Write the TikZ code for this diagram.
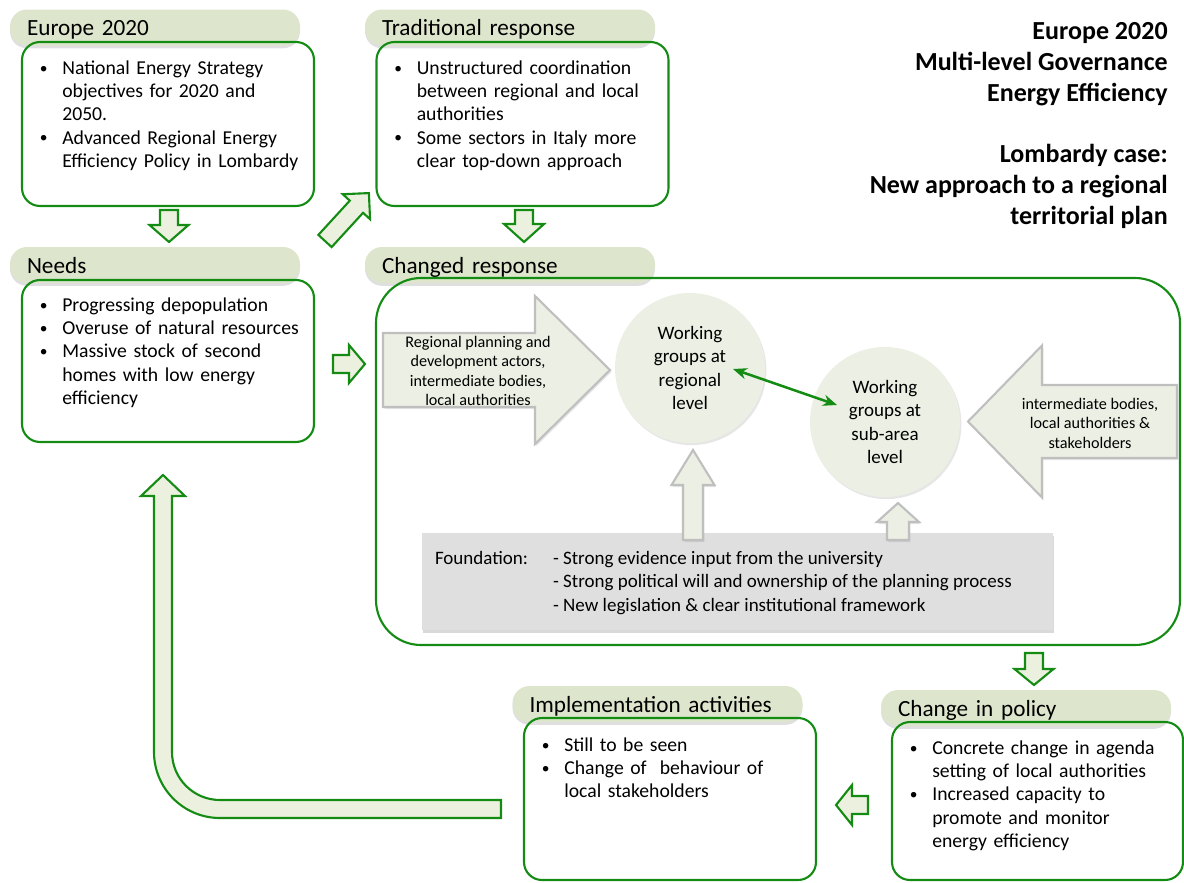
\documentclass[tikz,border=0pt]{standalone}
\usepackage{fontspec}
\setmainfont{Carlito}
\usetikzlibrary{positioning,calc,shadows,arrows.meta}

\definecolor{lgreen}{RGB}{20,140,20}
\definecolor{pillc}{RGB}{221,230,205}
\definecolor{arrfill}{RGB}{235,241,222}
\definecolor{circfill}{RGB}{236,239,227}
\definecolor{greyline}{RGB}{191,191,191}
\definecolor{fndfill}{RGB}{223,223,223}

\newlength\pxl
\setlength\pxl{0.025cm}
\newcommand\hdfont{\fontsize{16.5}{19}\selectfont}
\newcommand\bdfont{\fontsize{14}{16.5}\selectfont}
\newcommand\cifont{\fontsize{13.5}{16.7}\selectfont}
\newcommand\smfont{\fontsize{11.5}{13.9}\selectfont}
\newcommand\tlfont{\fontsize{18.5}{21.8}\selectfont\bfseries}
\newcommand{\bul}[1]{\par\noindent\hangindent=16.4pt\hangafter=1%
  \makebox[16.4pt][l]{\hspace{0.5pt}\raisebox{0.8pt}{\fontsize{11}{11}\selectfont\textbullet}}\strut#1\par}

\begin{document}
\begin{tikzpicture}[x=0.025cm,y=-0.025cm,
  hdr/.style={rounded corners=17*\pxl, fill=pillc, minimum height=36*\pxl, text width=256*\pxl,
    inner xsep=17*\pxl, inner ysep=0pt, text height=12pt, text depth=0pt, align=left, font=\hdfont,
    drop shadow={opacity=0.25,shadow xshift=0pt,shadow yshift=-2pt}},
  bdy/.style={draw=lgreen, line width=1.5pt, rounded corners=18*\pxl, minimum width=292*\pxl},
  txt/.style={font=\bdfont, inner sep=0pt, text width=275*\pxl, align=left},
  circ/.style={circle, fill=circfill, minimum size=150*\pxl, inner sep=0pt, align=center, font=\cifont,
    drop shadow={opacity=0.2,shadow xshift=1pt,shadow yshift=-1.5pt}},
  fnd/.style={fill=fndfill, drop shadow={opacity=0.3,shadow xshift=1pt,shadow yshift=-2pt}},
  ttl/.style={font=\tlfont, align=right, inner sep=0pt, anchor=north east},
  garr/.style={draw=lgreen, fill=arrfill, line width=1.5pt},
  yarr/.style={draw=greyline, fill=circfill, line width=1.5pt,
    drop shadow={opacity=0.2,shadow xshift=1pt,shadow yshift=-1.5pt}},
  dbl/.style={lgreen, line width=1.8pt, {Stealth[length=10pt,width=8pt]}-{Stealth[length=10pt,width=8pt]}},
  pics/blk/.style n args={5}{code={
    \path[#5] (0,-#2) -- ({#1-#4},-#2) -- ({#1-#4},-#3) -- (#1,0) -- ({#1-#4},#3) -- ({#1-#4},#2) -- (0,#2) -- cycle;}}
  ]
  \useasboundingbox (0,0) rectangle (1184,882);

  % title
  \node[ttl] (ttla) at (1168,18) {\strut Europe 2020\\Multi-level Governance\\Energy Efficiency};
  \node[ttl] (ttlb) at (1168,141) {\strut Lombardy case:\\New approach to a regional\\territorial plan};

  % Europe 2020
  \node[hdr] (euhd) at (155,27.5) {Europe 2020};
  \node[bdy, minimum height=164*\pxl] (eubd) at (168,124) {};
  \node[txt, below right=10*\pxl and 18*\pxl of eubd.north west] (eutx)
    {\bul{National Energy Strategy\newline objectives for 2020 and\newline 2050.}%
     \bul{Advanced Regional Energy\newline Efficiency Policy in Lombardy}};

  % Traditional response
  \node[hdr] (trhd) at (510,27.5) {Traditional response};
  \node[bdy, minimum height=164*\pxl] (trbd) at (522.5,124) {};
  \node[txt, below right=10*\pxl and 18*\pxl of trbd.north west] (trtx)
    {\bul{Unstructured coordination\newline between regional and local\newline authorities}%
     \bul{Some sectors in Italy more\newline clear top-down approach}};

  % Needs
  \node[hdr] (ndhd) at (155,265) {Needs};
  \node[bdy, minimum height=162*\pxl] (ndbd) at (168,361) {};
  \node[txt, below right=9*\pxl and 18*\pxl of ndbd.north west] (ndtx)
    {\bul{Progressing depopulation}%
     \bul{Overuse of natural resources}%
     \bul{Massive stock of second\newline homes with low energy\newline efficiency}};

  % Changed response
  \node[hdr] (chhd) at (510,265) {Changed response};
  \node[bdy, rounded corners=45*\pxl, minimum width=804*\pxl, minimum height=367*\pxl] (chbd) at (778,461.5) {};

  \pic at (383,370) {blk={227}{37}{74}{75}{yarr}};
  \node[font=\smfont, align=center] (lefttx) at (478,371)
    {Regional planning and\\development actors,\\intermediate bodies,\\local authorities};
  \pic[rotate=180] at (1177,421.5) {blk={209}{36.5}{76}{74}{yarr}};
  \node[font=\smfont, align=center] (righttx) at (1090,423)
    {intermediate bodies,\\local authorities \&\\stakeholders};

  \node[circ] (wgreg) at (690,368) {Working\\groups at\\regional\\level};
  \node[circ] (wgsub) at (885,422) {Working\\groups at\\sub-area\\level};
  \draw[dbl] ($(wgreg.center)+(43,1)$) -- ($(wgsub.center)+(-48,-17)$);

  % foundation
  \node[fnd, minimum width=631*\pxl, minimum height=97*\pxl] (fndbx) at (737.5,581.5) {};
  \node[font=\cifont, inner sep=0pt, below right=15*\pxl and 13*\pxl of fndbx.north west] (fndtx)
    {\begin{tabular}{@{}p{84pt}@{}l@{}}
      Foundation: & - Strong evidence input from the university\\
                  & - Strong political will and ownership of the planning process\\
                  & - New legislation \& clear institutional framework
     \end{tabular}};
  \pic[rotate=90] at (693,540) {blk={90}{10}{21.5}{35}{yarr}};
  \pic[rotate=90] at (898,540) {blk={37}{11}{21}{19}{yarr}};

  % Change in policy
  \node[hdr] (pohd) at (1026,708) {Change in policy};
  \node[bdy, minimum width=291*\pxl, minimum height=158*\pxl] (pobd) at (1037.5,801) {};
  \node[txt, below right=10*\pxl and 18*\pxl of pobd.north west] (potx)
    {\bul{Concrete change in agenda\newline setting of local authorities}%
     \bul{Increased capacity to\newline promote and monitor\newline energy efficiency}};

  % Implementation activities
  \node[hdr] (imhd) at (657.5,704) {Implementation activities};
  \node[bdy, minimum height=162*\pxl] (imbd) at (670,799) {};
  \node[txt, below right=11*\pxl and 18*\pxl of imbd.north west] (imtx)
    {\bul{Still to be seen}%
     \bul{Change of\ \ behaviour of\newline local stakeholders}};

  % the small arrows
  \pic[rotate=-90] at (169,210) {blk={32}{9}{19.5}{17}{garr}};
  \pic[rotate=-90] at (524,210) {blk={32}{9}{20}{18}{garr}};
  \pic at (333,364) {blk={32}{9}{19}{16}{garr}};
  \pic[rotate=47.5] at (325,241) {blk={65}{9}{18.5}{18.5}{garr}};
  \pic[rotate=-90] at (1034,653) {blk={32}{9}{19.5}{16}{garr}};
  \pic[rotate=180] at (868,805) {blk={32}{9}{20}{16}{garr}};

  % back to the needs
  \draw[garr] (501,800) -- (220,800) arc[start angle=90,end angle=180,radius=48]
    -- (172,496) -- (185,496) -- (163,475) -- (141,496) -- (154,496) -- (154,752)
    arc[start angle=180,end angle=90,radius=66] -- (501,818) -- cycle;
\end{tikzpicture}
\end{document}
